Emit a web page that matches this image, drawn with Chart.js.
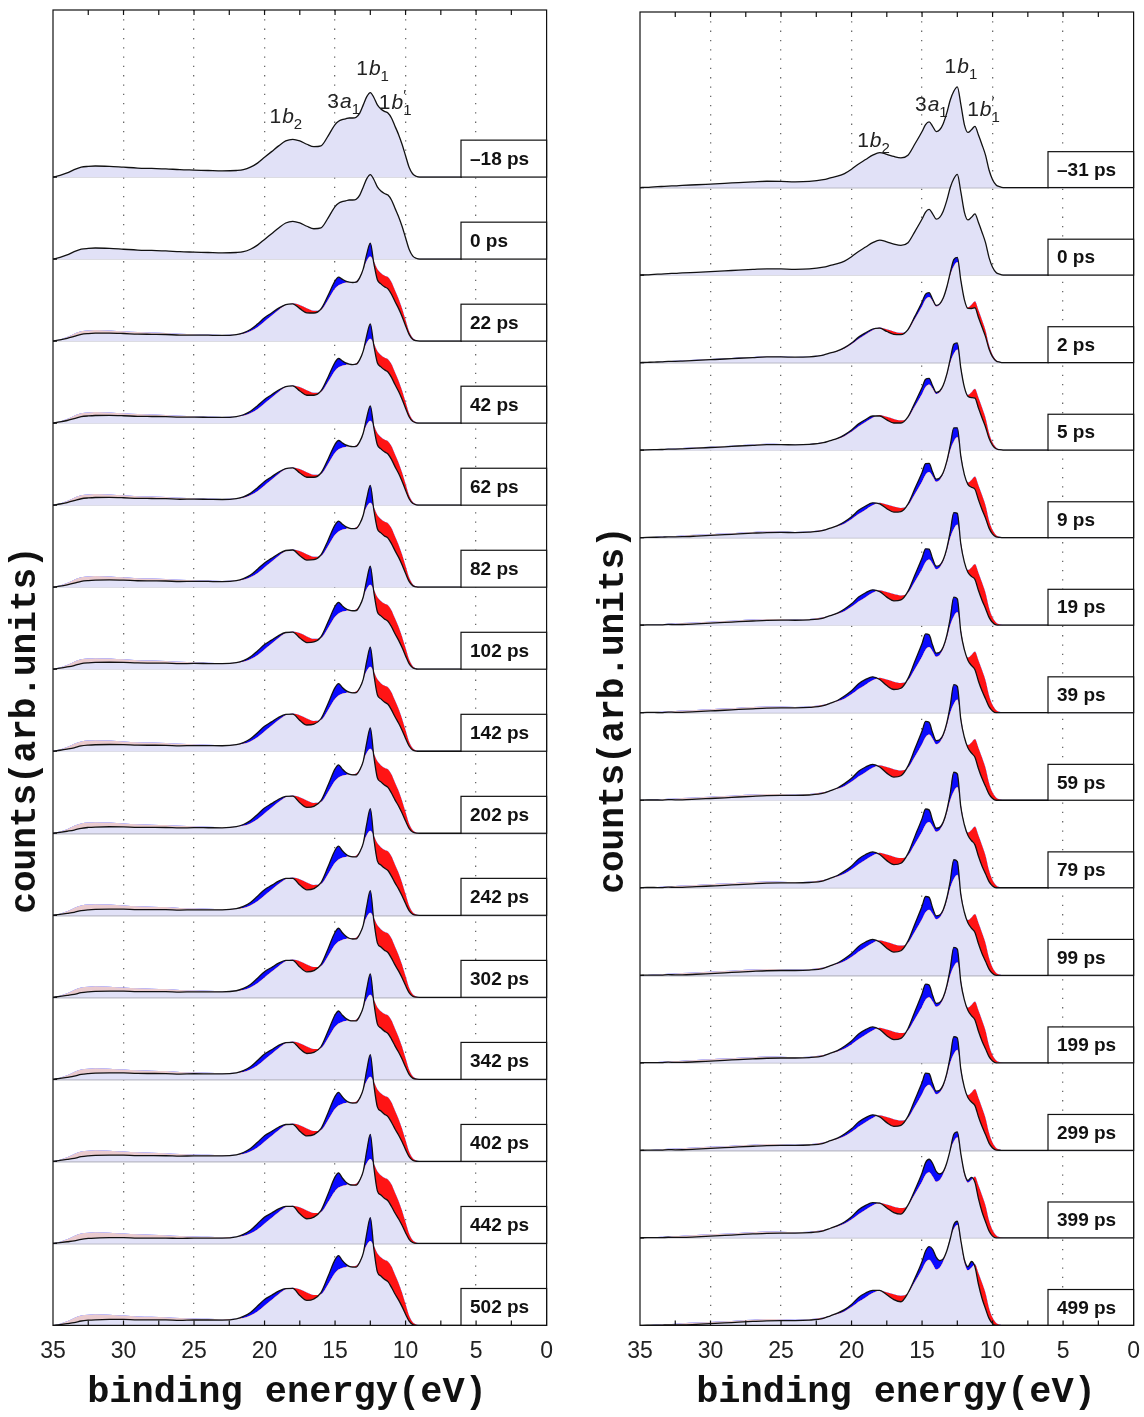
<!DOCTYPE html>
<html>
<head>
<meta charset="utf-8">
<script src="https://cdn.jsdelivr.net/npm/chart.js@4.4.0/dist/chart.umd.min.js"></script>
<style>
  body { margin: 0; background: #fff; width: 1144px; height: 1417px; position: relative; overflow: hidden; }
  canvas { position: absolute; top: 0; }
  #leftChart { left: 0; }
  #rightChart { left: 580px; }
</style>
</head>
<body>
<canvas id="leftChart" width="565" height="1417"></canvas>
<canvas id="rightChart" width="572" height="1417"></canvas>
<script>
// binding energy grid (eV)
const energy = [35, 34.5, 34, 33.5, 33, 32.5, 32, 31, 30, 29, 28, 27, 26, 25, 24, 23, 22, 21.5, 21, 20.5,
  20, 19.5, 19, 18.5, 18, 17.5, 17, 16.5, 16, 15.5, 15, 14.75, 14.5, 14.25, 14, 13.75, 13.5, 13.25, 13, 12.75,
  12.5, 12.25, 12, 11.75, 11.5, 11.25, 11, 10.75, 10.5, 10.25, 10, 9.75, 9.5, 9.25, 9, 8, 6];

// left panel: unpumped spectrum and the pumped-minus-unpumped change (row units)
const groundLeft = [0, 0.02, 0.05, 0.09, 0.12, 0.13, 0.135, 0.13, 0.12, 0.11, 0.105, 0.10, 0.09, 0.085, 0.08, 0.075, 0.08, 0.09, 0.12, 0.17,
  0.24, 0.31, 0.38, 0.44, 0.46, 0.44, 0.40, 0.37, 0.38, 0.50, 0.64, 0.68, 0.70, 0.71, 0.72, 0.72, 0.73, 0.78, 0.88, 0.98,
  1.03, 0.97, 0.88, 0.83, 0.80, 0.78, 0.72, 0.62, 0.52, 0.40, 0.26, 0.12, 0.04, 0.01, 0, 0, 0];
const diffLeft = [0, -0.01, -0.03, -0.06, -0.07, -0.07, -0.07, -0.06, -0.05, -0.045, -0.04, -0.035, -0.03, -0.02, -0.015, -0.01, 0, 0.02, 0.04, 0.07,
  0.08, 0.06, 0.04, 0.01, -0.01, -0.08, -0.10, -0.05, 0.02, 0.10, 0.17, 0.18, 0.10, 0.04, 0, -0.01, -0.02, -0.01, 0, 0.15,
  0.30, -0.04, -0.24, -0.24, -0.25, -0.26, -0.27, -0.25, -0.22, -0.18, -0.13, -0.07, -0.03, -0.01, 0, 0, 0];
const delaysLeft = ['–18 ps', '0 ps', '22 ps', '42 ps', '62 ps', '82 ps', '102 ps', '142 ps', '202 ps', '242 ps',
  '302 ps', '342 ps', '402 ps', '442 ps', '502 ps'];
const weightLeft = [0, 0, 0.55, 0.6, 0.6, 0.7, 0.75, 0.8, 0.85, 0.9, 0.9, 0.85, 0.9, 1.0, 0.95];

// right panel
const groundRight = [0, 0.003, 0.008, 0.012, 0.017, 0.02, 0.025, 0.032, 0.04, 0.048, 0.057, 0.065, 0.072, 0.07, 0.065, 0.07, 0.09, 0.11, 0.13, 0.16,
  0.21, 0.27, 0.32, 0.37, 0.40, 0.38, 0.355, 0.34, 0.37, 0.50, 0.64, 0.72, 0.75, 0.70, 0.64, 0.66, 0.73, 0.85, 1.00, 1.10,
  1.15, 0.95, 0.72, 0.63, 0.66, 0.70, 0.60, 0.49, 0.37, 0.20, 0.09, 0.03, 0.01, 0, 0, 0, 0];
const diffRightEarly = [0, 0, -0.005, -0.01, -0.01, -0.015, -0.02, -0.02, -0.02, -0.02, -0.02, -0.02, -0.02, -0.015, -0.01, -0.01, -0.01, 0, 0.01, 0.03,
  0.04, 0.06, 0.06, 0.04, -0.02, -0.07, -0.09, -0.06, 0.02, 0.09, 0.15, 0.18, 0.14, 0.07, 0.04, 0.03, 0.02, 0.03, 0.08, 0.22,
  0.15, -0.03, 0, -0.03, -0.12, -0.21, -0.24, -0.24, -0.21, -0.13, -0.07, -0.03, -0.01, 0, 0, 0, 0];
const diffRightLate = [0, 0, -0.005, -0.01, -0.01, -0.015, -0.02, -0.02, -0.02, -0.02, -0.02, -0.02, -0.02, -0.015, -0.01, -0.01, -0.01, 0, 0.01, 0.02,
  0.03, 0.05, 0.05, 0.03, 0, -0.03, -0.06, -0.07, 0, 0.04, 0.09, 0.13, 0.15, 0.17, 0.14, 0.08, 0.03, 0, -0.01, 0.05,
  0.04, 0.02, 0.03, 0.04, 0.07, -0.03, -0.13, -0.18, -0.18, -0.12, -0.07, -0.03, -0.01, 0, 0, 0, 0];
const delaysRight = ['–31 ps', '0 ps', '2 ps', '5 ps', '9 ps', '19 ps', '39 ps', '59 ps', '79 ps', '99 ps',
  '199 ps', '299 ps', '399 ps', '499 ps'];
const weightRightEarly = [0, 0, 0.35, 0.5, 0.7, 0.85, 1.0, 1.0, 1.0, 1.0, 1.0, 0.9, 0.2, 0];
const weightRightLate = [0, 0, 0, 0, 0, 0, 0, 0, 0, 0, 0, 0, 0.8, 1.0];

const xTicks = [35, 30, 25, 20, 15, 10, 5, 0];

const lavender = '#e1e1f7';
const blue = '#0a0aff';
const red = '#ff1414';
const pink = 'rgba(236,196,196,0.8)';

function buildDatasets(ground, diffs, weights, delays) {
  const n = delays.length;
  const sets = [];
  delays.forEach((label, r) => {
    const base = n - 1 - r;
    const refIdx = sets.length;
    sets.push({
      label: label + ' ref',
      data: energy.map((e, i) => ({ x: e, y: base + ground[i] })),
      borderWidth: 0,
      pointRadius: 0,
      backgroundColor: lavender,
      fill: { value: base },
      cubicInterpolationMode: 'monotone',
      order: 1000 - 2 * r
    });
    sets.push({
      label: label,
      data: energy.map((e, i) => {
        let y = base + ground[i];
        diffs.forEach((d, j) => { y += weights[j][r] * d[i]; });
        return { x: e, y: y };
      }),
      borderColor: '#111',
      borderWidth: 1.3,
      pointRadius: 0,
      backgroundColor: red,
      fill: { target: refIdx, above: blue, below: red },
      cubicInterpolationMode: 'monotone',
      order: 999 - 2 * r
    });
  });
  return sets;
}

function drawPeakLabel(ctx, x, y, first, letter, sub, prime) {
  ctx.fillStyle = '#222';
  ctx.textAlign = 'left';
  ctx.textBaseline = 'alphabetic';
  ctx.font = '21px "Liberation Sans"';
  ctx.fillText(first, x, y);
  x += ctx.measureText(first).width + 1;
  ctx.font = 'italic 21px "Liberation Sans"';
  ctx.fillText(letter, x, y);
  x += ctx.measureText(letter).width;
  ctx.font = '15px "Liberation Sans"';
  ctx.fillText(sub, x, y + 6);
  if (prime) ctx.fillText('′', x, y - 9);
}

function makeDecor(delays, peakLabels, boxHeight, titles) {
  return {
    id: 'decor',
    afterDatasetsDraw(chart) {
      const ctx = chart.ctx;
      const area = chart.chartArea;
      const xs = chart.scales.x;
      const ys = chart.scales.y;
      const n = delays.length;
      ctx.save();

      // time delay boxes
      const bh = ys.getPixelForValue(0) - ys.getPixelForValue(boxHeight);
      delays.forEach((label, r) => {
        const yb = ys.getPixelForValue(n - 1 - r);
        const x0 = xs.getPixelForValue(6.07);
        ctx.fillStyle = '#fff';
        ctx.fillRect(x0, yb - bh, area.right - x0, bh);
        ctx.strokeStyle = '#111';
        ctx.lineWidth = 1.2;
        ctx.strokeRect(x0, yb - bh, area.right - x0, bh);
        ctx.fillStyle = '#111';
        ctx.font = 'bold 19px "Liberation Sans"';
        ctx.textBaseline = 'middle';
        ctx.textAlign = 'left';
        ctx.fillText(label, x0 + 9, yb - bh / 2 + 1);
      });

      // peak assignments on the top spectrum
      peakLabels.forEach(p => {
        drawPeakLabel(ctx, xs.getPixelForValue(p.e), ys.getPixelForValue(n - 1 + p.h), p.first, p.letter, p.sub, p.prime);
      });

      // frame and inward ticks
      ctx.strokeStyle = '#111';
      ctx.lineWidth = 1.2;
      ctx.strokeRect(area.left, area.top, area.right - area.left, area.bottom - area.top);
      ctx.beginPath();
      for (let e = 2.5; e < 35; e += 2.5) {
        const px = xs.getPixelForValue(e);
        ctx.moveTo(px, area.bottom); ctx.lineTo(px, area.bottom - 5);
        ctx.moveTo(px, area.top); ctx.lineTo(px, area.top + 5);
      }
      for (let k = 1; k < n; k++) {
        const py = ys.getPixelForValue(k);
        ctx.moveTo(area.left, py); ctx.lineTo(area.left + 4, py);
      }
      ctx.stroke();

      // axis titles
      ctx.fillStyle = '#111';
      ctx.font = 'bold 37px "Liberation Mono"';
      ctx.textAlign = 'center';
      ctx.textBaseline = 'alphabetic';
      ctx.fillText('binding energy(eV)', titles.xCenter, titles.xBase);
      ctx.font = 'bold 36px "Liberation Mono"';
      ctx.translate(titles.yBase, titles.yCenter);
      ctx.rotate(-Math.PI / 2);
      ctx.fillText('counts(arb.units)', 0, 0);
      ctx.restore();
    }
  };
}

function makeChart(id, datasets, delays, yMax, padding, peakLabels, boxHeight, titles) {
  const n = delays.length;
  const chart = new Chart(document.getElementById(id), {
    type: 'line',
    data: { datasets: datasets },
    options: {
      responsive: false,
      animation: false,
      devicePixelRatio: 1,
      layout: { padding: padding },
      plugins: { legend: { display: false }, tooltip: { enabled: false } },
      scales: {
        x: {
          type: 'linear',
          reverse: true,
          min: 0,
          max: 35,
          afterBuildTicks: axis => { axis.ticks = xTicks.map(v => ({ value: v })); },
          ticks: { color: '#222', font: { family: 'Liberation Sans', size: 23 }, padding: 12, maxRotation: 0 },
          grid: {
            drawTicks: false,
            color: c => (c.tick && (c.tick.value === 0 || c.tick.value === 35)) ? 'rgba(0,0,0,0)' : '#6a6a6a',
            lineWidth: 1.3
          },
          border: { display: false, dash: [1.3, 8] }
        },
        y: {
          min: 0,
          max: yMax,
          afterBuildTicks: axis => {
            const t = [];
            for (let k = 0; k < n; k++) t.push({ value: k });
            axis.ticks = t;
          },
          ticks: { display: false },
          grid: {
            drawTicks: false,
            color: c => (c.tick && c.tick.value > 0) ? '#b9b9c6' : 'rgba(0,0,0,0)',
            lineWidth: 1.5
          },
          border: { display: false }
        }
      }
    },
    plugins: [makeDecor(delays, peakLabels, boxHeight, titles)]
  });

  // tail depletion is drawn pale, the valence changes in full red
  const xs = chart.scales.x;
  const p35 = xs.getPixelForValue(35);
  const p0 = xs.getPixelForValue(0);
  const grad = chart.ctx.createLinearGradient(p35, 0, p0, 0);
  grad.addColorStop(0, pink);
  grad.addColorStop((35 - 23) / 35, pink);
  grad.addColorStop((35 - 21.5) / 35, red);
  grad.addColorStop(1, red);
  chart.data.datasets.forEach(ds => {
    if (ds.fill && ds.fill.target !== undefined) ds.fill.below = grad;
  });
  chart.update('none');
  return chart;
}

const leftSets = buildDatasets(groundLeft, [diffLeft], [weightLeft], delaysLeft);
const rightSets = buildDatasets(groundRight, [diffRightEarly, diffRightLate], [weightRightEarly, weightRightLate], delaysRight);

makeChart('leftChart', leftSets, delaysLeft, 1315 / 82, { left: 53, right: 17, top: 10, bottom: 40 }, [
  { e: 19.65, h: 0.66, first: '1', letter: 'b', sub: '2' },
  { e: 15.55, h: 0.84, first: '3', letter: 'a', sub: '1' },
  { e: 13.5, h: 1.25, first: '1', letter: 'b', sub: '1' },
  { e: 11.9, h: 0.83, first: '1', letter: 'b', sub: '1', prime: true }
], 0.45, { xCenter: 287, xBase: 1402, yBase: 35, yCenter: 730 });

makeChart('rightChart', rightSets, delaysRight, 1313 / 87.5, { left: 60, right: 3, top: 12, bottom: 40 }, [
  { e: 19.6, h: 0.46, first: '1', letter: 'b', sub: '2' },
  { e: 15.5, h: 0.88, first: '3', letter: 'a', sub: '1' },
  { e: 13.4, h: 1.31, first: '1', letter: 'b', sub: '1' },
  { e: 11.8, h: 0.82, first: '1', letter: 'b', sub: '1', prime: true }
], 0.41, { xCenter: 316, xBase: 1402, yBase: 43, yCenter: 710 });
</script>
</body>
</html>
